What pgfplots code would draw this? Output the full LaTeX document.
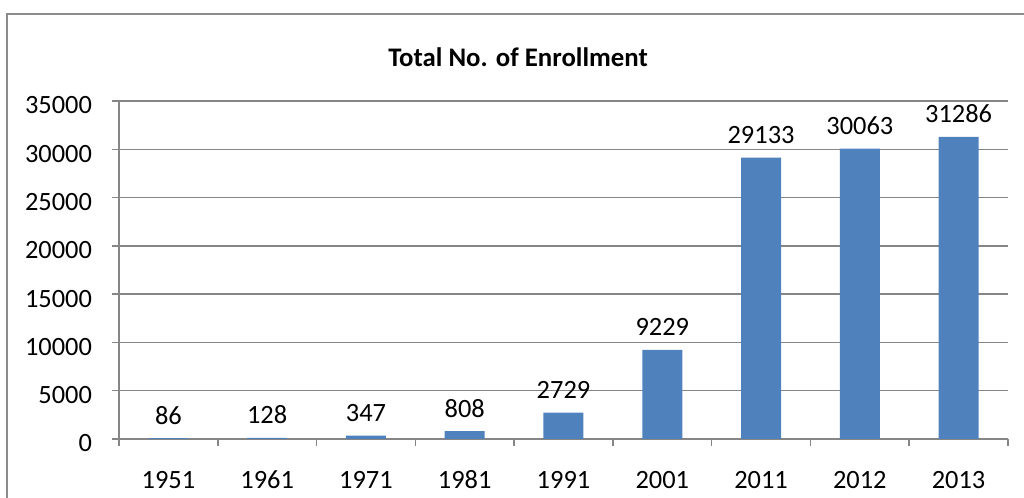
\documentclass[border=0pt]{standalone}
\usepackage{pgfplots}
\pgfplotsset{compat=1.18}
\usepackage{fontspec}
\setmainfont{Carlito}
\definecolor{barblue}{RGB}{79,129,189}
\definecolor{gridgray}{RGB}{134,134,134}
\definecolor{framegray}{RGB}{140,140,140}
\begin{document}
\begin{tikzpicture}
\useasboundingbox (0,0) rectangle (512pt,249pt);
\clip (0,0) rectangle (512pt,249pt);
\draw[framegray, line width=0.75pt] (3.5pt,-5pt) -- (3.5pt,242pt) -- (530pt,242pt);
\node[font=\fontsize{13.4}{16}\selectfont\bfseries] at (259pt,220.5pt) {Total No. of Enrollment};
\begin{axis}[
  at={(59.5pt,29.5pt)}, anchor=south west,
  scale only axis, width=444.5pt, height=169pt,
  xmin=-0.5, xmax=8.5, ymin=0, ymax=35000,
  axis lines*=left,
  axis line style={gridgray, line width=0.75pt},
  ytick={0,5000,...,35000},
  xtick={0,...,8},
  xticklabels={1951,1961,1971,1981,1991,2001,2011,2012,2013},
  minor xtick={-0.5,0.5,...,8.5},
  tick align=outside,
  major x tick style={draw=none},
  minor tick length=3.5pt,
  major tick length=3.5pt,
  tick style={gridgray, line width=0.75pt},
  ymajorgrids,
  grid style={gridgray, line width=0.75pt},
  scaled y ticks=false,
  /pgf/number format/1000 sep={},
  /pgf/number format/assume math mode=true,
  tick label style={font=\fontsize{13.2}{15}\selectfont, text=black},
  yticklabel style={anchor=east, xshift=-6.5pt, yshift=-2.25pt},
  xticklabel style={anchor=base, yshift=-21.5pt, inner sep=0pt},
  ybar, bar width=20pt,
  nodes near coords,
  nodes near coords style={font=\fontsize{13.2}{15}\selectfont, anchor=base, inner sep=0pt, yshift=7pt, /pgf/number format/1000 sep={}},
  clip=false,
]
\addplot[fill=barblue, draw=none] coordinates {
(0,86) (1,128) (2,347) (3,808) (4,2729) (5,9229) (6,29133) (7,30063) (8,31286)};
\end{axis}
\end{tikzpicture}
\end{document}
